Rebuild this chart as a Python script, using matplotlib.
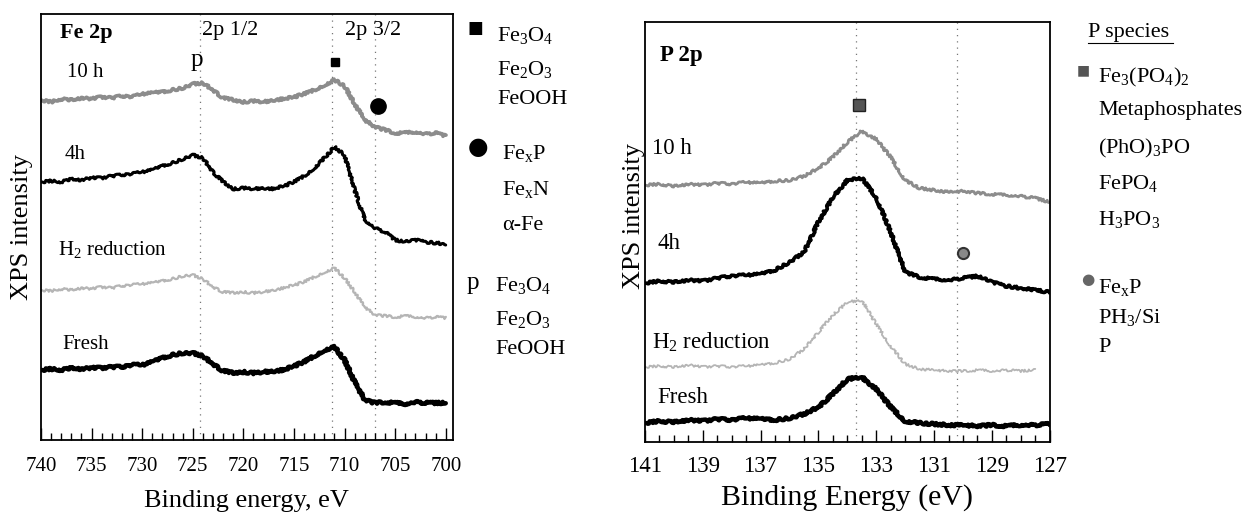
import numpy as np
import matplotlib
matplotlib.use("Agg")
import matplotlib.pyplot as plt
from matplotlib.ticker import MultipleLocator, FixedLocator

plt.rcParams['font.family'] = ['Liberation Serif', 'DejaVu Serif']
plt.rcParams['mathtext.fontset'] = 'stix'

# Fe 2p: энергия связи (eV) и интенсивности (усл. ед.)
fe_energy = np.arange(740, 699, -1)
fe_10h = [340, 338, 341, 340, 342, 341, 343, 342, 344, 343, 346, 347, 348, 350, 352, 356,
          357, 350, 342, 340, 338, 339, 338, 340, 341, 343, 346, 350, 355, 360, 354, 336,
          320, 313, 310, 307, 307, 308, 306, 307, 304]
fe_4h = [258, 259, 258, 261, 260, 262, 262, 264, 265, 266, 268, 270, 274, 277, 281, 285,
         282, 268, 258, 251, 252, 251, 252, 251, 254, 258, 264, 272, 282, 293, 285, 250,
         220, 212, 208, 200, 198, 200, 198, 197, 196]
fe_h2 = [150, 149, 151, 150, 152, 151, 153, 152, 154, 155, 156, 157, 159, 161, 164, 165,
         161, 153, 148, 147, 148, 147, 148, 150, 152, 155, 158, 163, 168, 172, 162, 148,
         133, 125, 124, 123, 124, 123, 122, 123, 122]
fe_fresh = [70, 71, 70, 72, 71, 72, 72, 73, 73, 75, 75, 78, 82, 85, 87, 87,
            84, 76, 69, 67, 68, 67, 68, 69, 70, 74, 78, 84, 90, 93, 80, 58,
            40, 37, 38, 37, 36, 38, 37, 37, 37]
fe_lines = [724.3, 711.2, 707.0]
fe_ticks = [740, 735, 730, 725, 720, 715, 710, 705, 700]

# P 2p
p_energy = np.arange(141, 126.9, -0.5)
p_10h = [257, 258, 256, 258, 257, 259, 258, 260, 259, 261, 262, 266, 274, 285, 300, 311,
         303, 285, 262, 254, 252, 250, 251, 249, 248, 247, 246, 244, 240]
p_4h = [159, 161, 160, 162, 161, 164, 166, 167, 168, 172, 180, 190, 220, 245, 262, 264,
        245, 210, 170, 165, 163, 162, 164, 166, 160, 156, 154, 152, 150]
p_h2 = [75, 76, 75, 77, 75, 76, 75, 76, 77, 79, 83, 93, 110, 127, 140, 142,
        118, 96, 78, 73, 72, 71, 71, 72, 71, 72, 71, 72]
p_fresh = [19, 21, 20, 22, 21, 23, 22, 24, 23, 22, 24, 28, 35, 48, 63, 65,
           53, 35, 21, 19, 18, 17, 17, 16, 17, 16, 17, 17, 18]
p_lines = [133.7, 130.2]
p_ticks = [141, 139, 137, 135, 133, 131, 129, 127]

fig = plt.figure(figsize=(12.52, 5.17), dpi=100)
ax1 = fig.add_axes([0.0327, 0.149, 0.329, 0.824])
ax2 = fig.add_axes([0.515, 0.145, 0.3235, 0.812])


def style_axis(ax, xlim, ylim, ticks, minor, labsize, pad):
    ax.set_xlim(*xlim)
    ax.set_ylim(*ylim)
    ax.set_yticks([])
    ax.xaxis.set_major_locator(FixedLocator(ticks))
    ax.xaxis.set_minor_locator(MultipleLocator(minor))
    ax.tick_params(axis='x', which='major', direction='in', length=9, width=1,
                   labelsize=labsize, pad=pad)
    ax.tick_params(axis='x', which='minor', direction='in', length=5, width=1)
    for s in ax.spines.values():
        s.set_linewidth(1.3)


def curve(ax, x, y, color, lw):
    ln, = ax.plot(x[:len(y)], y, color=color, lw=lw, solid_capstyle='round')
    ln.set_sketch_params(scale=1.2, length=4, randomness=12)
    return ln


# --- Fe 2p ---
style_axis(ax1, (740, 699.3), (0, 426), fe_ticks, 1, 15, 12)
for e in fe_lines:
    ax1.axvline(e, color='#777777', lw=0.9, ls=(0, (1, 4)), zorder=0)
curve(ax1, fe_energy, fe_10h, '#8c8c8c', 2.6)
curve(ax1, fe_energy, fe_4h, 'black', 2.2)
curve(ax1, fe_energy, fe_h2, '#b5b5b5', 1.6)
curve(ax1, fe_energy, fe_fresh, 'black', 3.2)

t = ax1.transAxes
ax1.text(0.046, 0.955, 'Fe 2p', transform=t, fontsize=16, fontweight='bold', va='center')
ax1.text(0.39, 0.962, '2p 1/2', transform=t, fontsize=16, va='center')
ax1.text(0.738, 0.962, '2p 3/2', transform=t, fontsize=16, va='center')
ax1.text(0.379, 0.892, 'p', transform=t, fontsize=18, ha='center', va='center')
ax1.plot([0.714], [0.887], 's', ms=6, color='black', transform=t)
ax1.plot([0.818], [0.784], 'o', ms=11, color='black', transform=t)
ax1.text(0.063, 0.862, '10 h', transform=t, fontsize=15, va='center')
ax1.text(0.058, 0.669, '4h', transform=t, fontsize=15, va='center')
ax1.text(0.041, 0.446, r'$\mathregular{H_2}$ reduction', transform=t, fontsize=15, va='center')
ax1.text(0.053, 0.223, 'Fresh', transform=t, fontsize=15, va='center')
ax1.set_xlabel('Binding energy, eV', fontsize=19, labelpad=10)
ax1.set_ylabel('XPS intensity', fontsize=19, labelpad=6)

# --- P 2p ---
style_axis(ax2, (141, 127), (0, 420), p_ticks, 0.5, 16.5, 10)
for e in p_lines:
    ax2.axvline(e, color='#777777', lw=0.9, ls=(0, (1, 4)), zorder=0)
curve(ax2, p_energy, p_10h, '#8c8c8c', 2.0)
curve(ax2, p_energy, p_4h, 'black', 2.6)
curve(ax2, p_energy, p_h2, '#b5b5b5', 1.3)
curve(ax2, p_energy, p_fresh, 'black', 3.2)

t = ax2.transAxes
ax2.text(0.037, 0.921, 'P 2p', transform=t, fontsize=16.5, fontweight='bold', va='center')
ax2.plot([0.528], [0.802], 's', ms=8, color='#555555', mec='#222222', transform=t)
ax2.plot([0.785], [0.45], 'o', ms=8, color='#888888', mec='#333333', mew=1.5, transform=t)
ax2.text(0.017, 0.70, '10 h', transform=t, fontsize=16.5, va='center')
ax2.text(0.032, 0.474, '4h', transform=t, fontsize=16.5, va='center')
ax2.text(0.017, 0.238, r'$\mathregular{H_2}$ reduction', transform=t, fontsize=16.5, va='center')
ax2.text(0.032, 0.105, 'Fresh', transform=t, fontsize=16.5, va='center')
ax2.set_xlabel('Binding Energy (eV)', fontsize=21.5, labelpad=5)
ax2.set_ylabel('XPS intensity', fontsize=19)
ax2.yaxis.set_label_coords(0.0, 0.538)

# --- легенды (подписи справа от графиков) ---
fs = 16
fig.text(475 / 1252, 1 - 28 / 517, '\u25a0', fontsize=12, ha='center', va='center', family='DejaVu Sans')
for txt, y in [(r'$\mathregular{Fe_3O_4}$', 35), (r'$\mathregular{Fe_2O_3}$', 70), ('FeOOH', 100)]:
    fig.text(497 / 1252, 1 - y / 517, txt, fontsize=fs, va='center')
fig.text(478 / 1252, 1 - 147 / 517, '\u25cf', fontsize=17, ha='center', va='center', family='DejaVu Sans')
for txt, y in [(r'$\mathregular{Fe_xP}$', 153), (r'$\mathregular{Fe_xN}$', 190), ('\u03b1-Fe', 225)]:
    fig.text(502 / 1252, 1 - y / 517, txt, fontsize=fs, va='center')
fig.text(473 / 1252, 1 - 283 / 517, 'p', fontsize=18, ha='center', va='center')
for txt, y in [(r'$\mathregular{Fe_3O_4}$', 285), (r'$\mathregular{Fe_2O_3}$', 320), ('FeOOH', 350)]:
    fig.text(495 / 1252, 1 - y / 517, txt, fontsize=fs, va='center')

fig.text(1088 / 1252, 1 - 33 / 517, 'P species', fontsize=fs, va='center')
fig.add_artist(plt.Line2D([1088 / 1252, 1173 / 1252], [1 - 43 / 517] * 2, color='black', lw=0.8))
fig.text(1083 / 1252, 1 - 70 / 517, '\u25a0', fontsize=10, ha='center', va='center',
         color='#555555', family='DejaVu Sans')
for txt, y in [(r'$\mathregular{Fe_3(PO_4)_2}$', 77), ('Metaphosphates', 110),
               (r'$\mathregular{(PhO)_3PO}$', 148), (r'$\mathregular{FePO_4}$', 183),
               (r'$\mathregular{H_3PO_3}$', 220)]:
    fig.text(1098 / 1252, 1 - y / 517, txt, fontsize=fs, va='center')
fig.text(1088 / 1252, 1 - 280 / 517, '\u25cf', fontsize=11, ha='center', va='center',
         color='#666666', family='DejaVu Sans')
for txt, y in [(r'$\mathregular{Fe_xP}$', 287), (r'$\mathregular{PH_3/Si}$', 318), ('P', 348)]:
    fig.text(1098 / 1252, 1 - y / 517, txt, fontsize=fs, va='center')

fig.savefig('out.png', dpi=100)
